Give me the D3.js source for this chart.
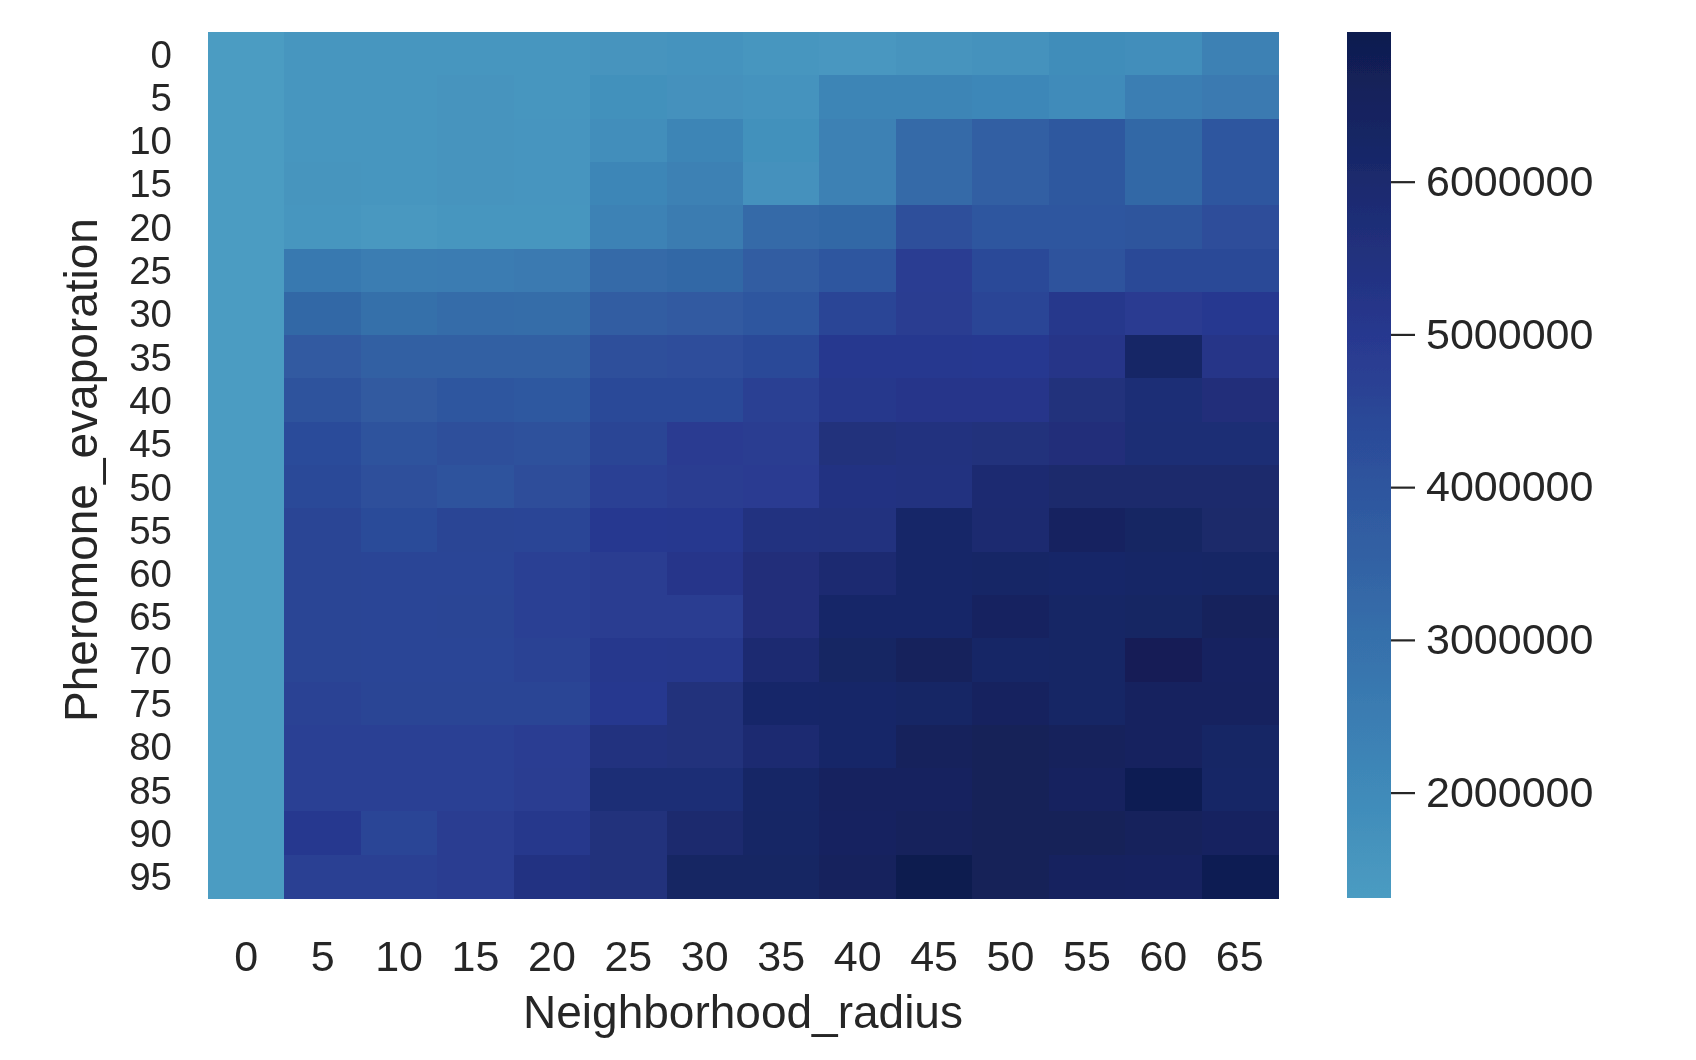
<!DOCTYPE html>
<html>
<head>
<meta charset="utf-8">
<script src="https://cdn.jsdelivr.net/npm/d3@7"></script>
<style>
  html, body { margin: 0; padding: 0; background: #ffffff; }
  svg { display: block; }
  text { font-family: "Liberation Sans", Arial, sans-serif; fill: #262626; }
</style>
</head>
<body>
<svg id="chart" width="1696" height="1060"></svg>
<script>
// ---- data ----
const radius = [0, 5, 10, 15, 20, 25, 30, 35, 40, 45, 50, 55, 60, 65];
const evaporation = [0, 5, 10, 15, 20, 25, 30, 35, 40, 45, 50, 55, 60, 65, 70, 75, 80, 85, 90, 95];
// rows = evaporation, columns = radius
const values = [
  [1.31e6, 1.53e6, 1.53e6, 1.53e6, 1.53e6, 1.60e6, 1.65e6, 1.55e6, 1.50e6, 1.60e6, 1.70e6, 1.90e6, 1.85e6, 2.35e6],
  [1.31e6, 1.53e6, 1.55e6, 1.60e6, 1.55e6, 1.75e6, 1.72e6, 1.65e6, 2.20e6, 2.20e6, 2.10e6, 1.95e6, 2.45e6, 2.60e6],
  [1.31e6, 1.55e6, 1.55e6, 1.60e6, 1.57e6, 1.85e6, 2.20e6, 1.75e6, 2.35e6, 3.20e6, 3.65e6, 3.90e6, 3.35e6, 3.95e6],
  [1.31e6, 1.58e6, 1.55e6, 1.60e6, 1.56e6, 2.15e6, 2.35e6, 1.72e6, 2.35e6, 3.20e6, 3.65e6, 3.90e6, 3.35e6, 3.95e6],
  [1.31e6, 1.55e6, 1.45e6, 1.53e6, 1.55e6, 2.30e6, 2.55e6, 3.20e6, 3.35e6, 4.20e6, 3.95e6, 3.92e6, 4.05e6, 4.25e6],
  [1.31e6, 2.67e6, 2.50e6, 2.52e6, 2.60e6, 3.20e6, 3.35e6, 3.70e6, 3.95e6, 4.80e6, 4.40e6, 4.10e6, 4.45e6, 4.45e6],
  [1.31e6, 3.35e6, 3.05e6, 3.15e6, 3.12e6, 3.69e6, 3.80e6, 3.96e6, 4.55e6, 4.85e6, 4.55e6, 5.10e6, 4.90e6, 4.95e6],
  [1.31e6, 3.80e6, 3.58e6, 3.60e6, 3.58e6, 4.20e6, 4.23e6, 4.43e6, 5.00e6, 5.00e6, 4.95e6, 5.20e6, 6.25e6, 5.20e6],
  [1.31e6, 4.10e6, 3.81e6, 3.95e6, 3.88e6, 4.43e6, 4.43e6, 4.75e6, 5.10e6, 5.15e6, 5.15e6, 5.60e6, 5.75e6, 5.65e6],
  [1.31e6, 4.30e6, 4.10e6, 4.20e6, 4.15e6, 4.60e6, 4.90e6, 4.85e6, 5.60e6, 5.50e6, 5.60e6, 5.65e6, 5.80e6, 5.80e6],
  [1.31e6, 4.43e6, 4.20e6, 4.10e6, 4.25e6, 4.70e6, 4.85e6, 4.90e6, 5.40e6, 5.45e6, 5.90e6, 6.05e6, 6.05e6, 6.05e6],
  [1.31e6, 4.60e6, 4.35e6, 4.60e6, 4.55e6, 4.95e6, 5.00e6, 5.45e6, 5.50e6, 6.20e6, 5.95e6, 6.40e6, 6.35e6, 6.10e6],
  [1.31e6, 4.60e6, 4.55e6, 4.55e6, 4.70e6, 4.85e6, 5.15e6, 5.65e6, 5.90e6, 6.20e6, 6.25e6, 6.20e6, 6.25e6, 6.30e6],
  [1.31e6, 4.60e6, 4.55e6, 4.60e6, 4.70e6, 4.85e6, 4.85e6, 5.65e6, 6.20e6, 6.20e6, 6.40e6, 6.30e6, 6.35e6, 6.60e6],
  [1.31e6, 4.60e6, 4.55e6, 4.55e6, 4.65e6, 5.05e6, 5.10e6, 5.90e6, 6.35e6, 6.60e6, 6.25e6, 6.30e6, 6.75e6, 6.40e6],
  [1.31e6, 4.65e6, 4.60e6, 4.60e6, 4.60e6, 5.00e6, 5.60e6, 6.15e6, 6.20e6, 6.30e6, 6.50e6, 6.30e6, 6.50e6, 6.50e6],
  [1.31e6, 4.70e6, 4.70e6, 4.70e6, 4.80e6, 5.50e6, 5.60e6, 5.90e6, 6.20e6, 6.60e6, 6.70e6, 6.60e6, 6.50e6, 6.30e6],
  [1.31e6, 4.70e6, 4.70e6, 4.70e6, 4.85e6, 5.75e6, 5.75e6, 6.25e6, 6.50e6, 6.50e6, 6.70e6, 6.50e6, 6.90e6, 6.25e6],
  [1.31e6, 5.00e6, 4.55e6, 4.85e6, 5.10e6, 5.60e6, 6.00e6, 6.30e6, 6.45e6, 6.60e6, 6.70e6, 6.70e6, 6.60e6, 6.45e6],
  [1.31e6, 4.75e6, 4.75e6, 4.85e6, 5.40e6, 5.60e6, 6.35e6, 6.35e6, 6.55e6, 6.98e6, 6.65e6, 6.50e6, 6.45e6, 6.90e6]
];
const colorbarTicks = [2000000, 3000000, 4000000, 5000000, 6000000];
// colour ramp
const rampValues = [2000000, 3000000, 4000000, 5000000, 6000000];
const rampColors = ["#4b9cc2", "#3f8ab9", "#3670ab", "#2e559e", "#28388f", "#1b2a6e", "#0f1c4f"];

// ---- layout ----
const W = 1696, H = 1060;
const plot = { left: 208, right: 1278, top: 32, bottom: 898 };
const cbar = { left: 1347, right: 1391 };
const xTickFont = 43, yTickFont = 38.5, cbarFont = 43, labelFont = 46;

const svg = d3.select("#chart");
svg.append("rect").attr("width", W).attr("height", H).attr("fill", "#ffffff");

const defs = svg.append("defs");
defs.append("filter").attr("id", "soft")
  .attr("x", "-5%").attr("y", "-5%").attr("width", "110%").attr("height", "110%")
  .append("feGaussianBlur").attr("stdDeviation", 0.7);

const root = svg.append("g").attr("filter", "url(#soft)");

const cells = [];
evaporation.forEach((e, i) => radius.forEach((r, j) => cells.push({ e, r, v: values[i][j] })));

const [vmin, vmax] = d3.extent(cells, d => d.v);
const color = d3.scaleLinear()
  .domain([vmin, ...rampValues, vmax])
  .range(rampColors)
  .interpolate(d3.interpolateRgb)
  .clamp(true);

const x = d3.scaleBand().domain(radius).range([plot.left, plot.right]);
const y = d3.scaleBand().domain(evaporation).range([plot.top, plot.bottom]);

root.append("g")
  .attr("shape-rendering", "crispEdges")
  .selectAll("rect")
  .data(cells)
  .join("rect")
  .attr("x", d => x(d.r))
  .attr("y", d => y(d.e))
  .attr("width", x.bandwidth() + 0.5)
  .attr("height", y.bandwidth() + 0.5)
  .attr("fill", d => color(d.v));

// axes
const xAxis = root.append("g")
  .attr("transform", `translate(0,${plot.bottom})`)
  .call(d3.axisBottom(x).tickSize(0).tickPadding(42));
xAxis.select(".domain").remove();
xAxis.selectAll("text").attr("font-size", xTickFont).attr("font-family", null).attr("fill", "#262626");

const yAxis = root.append("g")
  .attr("transform", `translate(${plot.left},0)`)
  .call(d3.axisLeft(y).tickSize(0).tickPadding(36));
yAxis.select(".domain").remove();
yAxis.selectAll("text").attr("font-size", yTickFont).attr("font-family", null).attr("fill", "#262626")
  .attr("dy", "0.36em");

root.append("text")
  .attr("x", (plot.left + plot.right) / 2)
  .attr("y", 1028)
  .attr("text-anchor", "middle")
  .attr("font-size", labelFont)
  .text("Neighborhood_radius");

root.append("text")
  .attr("transform", `translate(97,${(plot.top + plot.bottom) / 2 + 5}) rotate(-90)`)
  .attr("text-anchor", "middle")
  .attr("font-size", labelFont)
  .text("Pheromone_evaporation");

// colour bar
const cy = d3.scaleLinear().domain([vmin, vmax]).range([plot.bottom, plot.top]);
const grad = defs.append("linearGradient")
  .attr("id", "cbgrad")
  .attr("x1", 0).attr("y1", 1).attr("x2", 0).attr("y2", 0);
const gradStops = d3.range(0, 41).map(k => vmin + (vmax - vmin) * k / 40);
grad.selectAll("stop")
  .data(gradStops)
  .join("stop")
  .attr("offset", d => (d - vmin) / (vmax - vmin))
  .attr("stop-color", d => color(d));

root.append("rect")
  .attr("x", cbar.left)
  .attr("y", cy(vmax))
  .attr("width", cbar.right - cbar.left)
  .attr("height", cy(vmin) - cy(vmax))
  .attr("fill", "url(#cbgrad)");

const cAxis = root.append("g")
  .attr("transform", `translate(${cbar.right},0)`)
  .call(d3.axisRight(cy).tickValues(colorbarTicks).tickFormat(d3.format("d")).tickSize(24).tickPadding(11));
cAxis.select(".domain").remove();
cAxis.selectAll("line").attr("stroke", "#262626").attr("stroke-width", 2.2);
cAxis.selectAll("text").attr("font-size", cbarFont).attr("font-family", null).attr("fill", "#262626");
</script>
</body>
</html>
